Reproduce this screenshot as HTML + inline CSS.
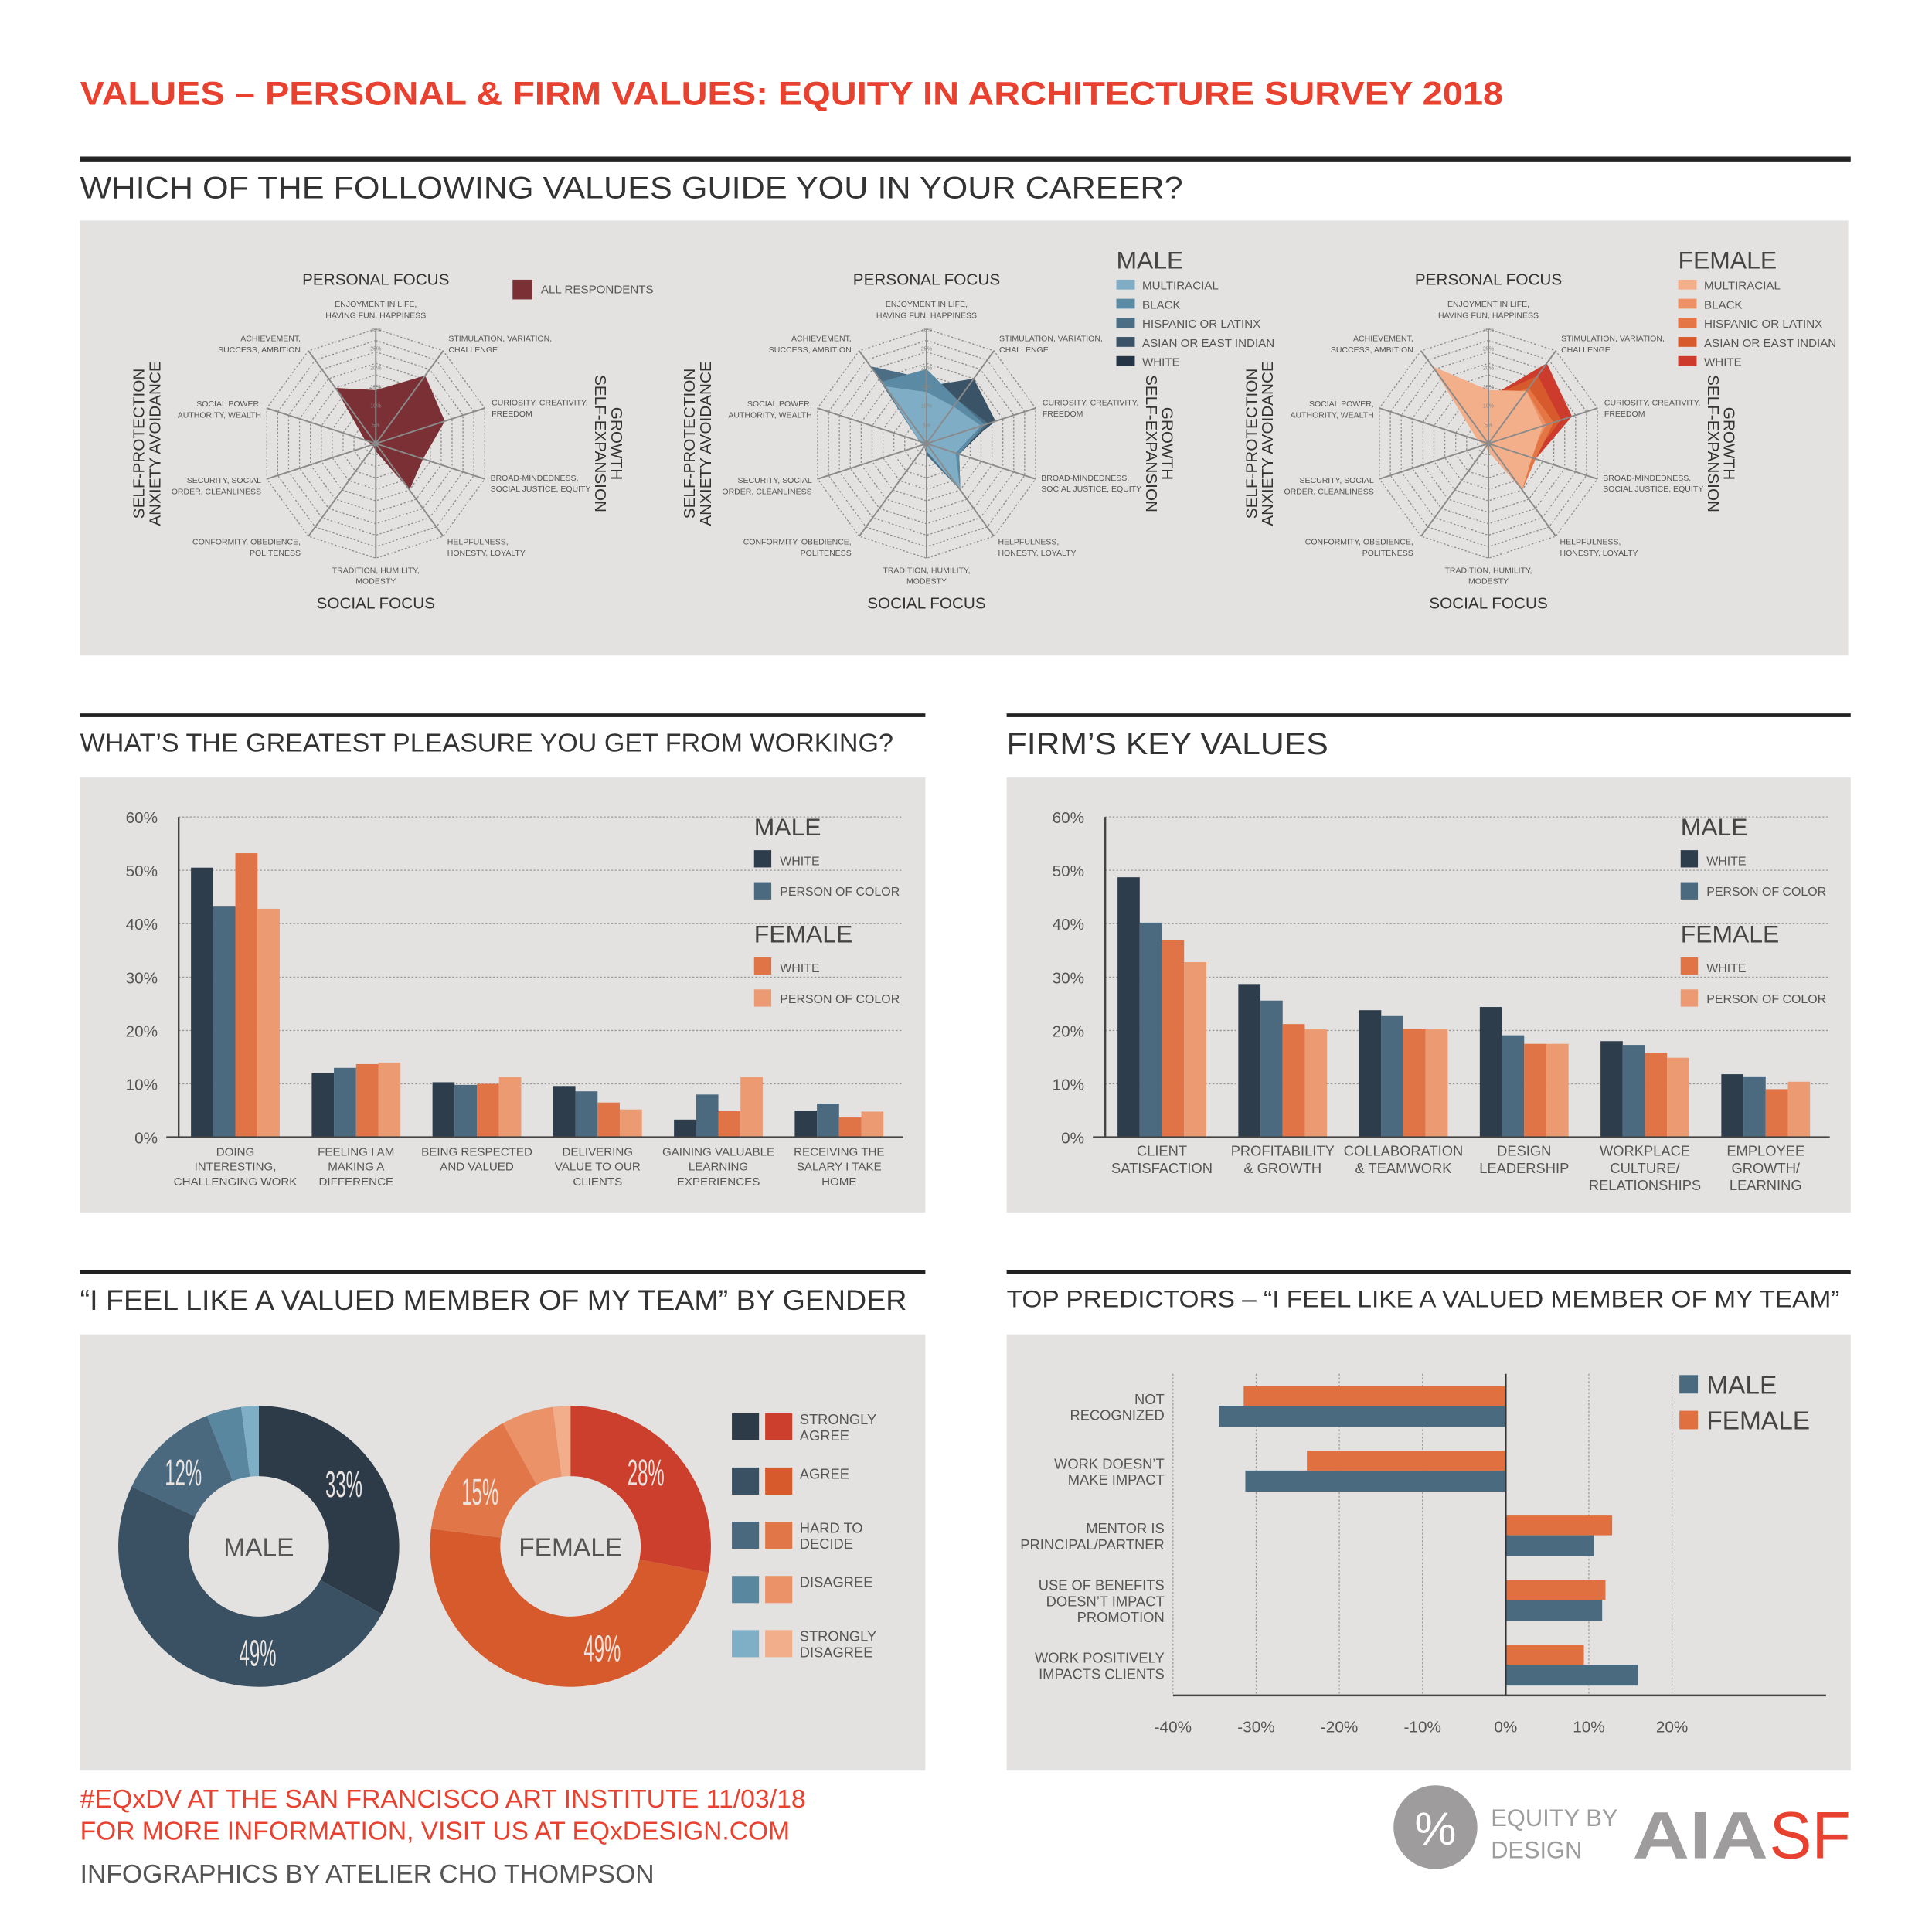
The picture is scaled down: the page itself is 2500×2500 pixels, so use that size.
<!DOCTYPE html>
<html><head><meta charset="utf-8">
<style>
html,body{margin:0;padding:0;background:#fff;width:2500px;height:2500px;overflow:hidden}
svg{display:block}
text{font-family:"Liberation Sans",sans-serif}
</style></head>
<body>
<svg id="root" width="2500" height="2500" viewBox="0 0 1568 1568" xmlns="http://www.w3.org/2000/svg">
<rect x="0" y="0" width="1568" height="1568" fill="#fff"/>
<text x="65" y="85" font-size="27" font-weight="bold" fill="#e8412f" textLength="1155" lengthAdjust="spacingAndGlyphs">VALUES – PERSONAL &amp; FIRM VALUES: EQUITY IN ARCHITECTURE SURVEY 2018</text>
<rect x="65" y="127" width="1437" height="4" fill="#222"/>
<text x="65" y="161" font-size="25" fill="#333" textLength="895" lengthAdjust="spacingAndGlyphs">WHICH OF THE FOLLOWING VALUES GUIDE YOU IN YOUR CAREER?</text>
<rect x="65" y="179" width="1435" height="353" fill="#e3e2e0"/>

<rect x="65" y="579" width="686" height="3" fill="#222"/>
<rect x="817" y="579" width="685" height="3" fill="#222"/>
<text x="65" y="610" font-size="21" fill="#333" textLength="660" lengthAdjust="spacingAndGlyphs">WHAT’S THE GREATEST PLEASURE YOU GET FROM WORKING?</text>
<text x="817" y="612" font-size="25" fill="#333" textLength="261" lengthAdjust="spacingAndGlyphs">FIRM’S KEY VALUES</text>
<rect x="65" y="631" width="686" height="353" fill="#e3e2e0"/>
<rect x="817" y="631" width="685" height="353" fill="#e3e2e0"/>

<rect x="65" y="1031" width="686" height="3" fill="#222"/>
<rect x="817" y="1031" width="685" height="3" fill="#222"/>
<text x="65" y="1063" font-size="23" fill="#333" textLength="671" lengthAdjust="spacingAndGlyphs">“I FEEL LIKE A VALUED MEMBER OF MY TEAM” BY GENDER</text>
<text x="817" y="1061" font-size="20" fill="#333" textLength="676" lengthAdjust="spacingAndGlyphs">TOP PREDICTORS – “I FEEL LIKE A VALUED MEMBER OF MY TEAM”</text>
<rect x="65" y="1083" width="686" height="354" fill="#e3e2e0"/>
<rect x="817" y="1083" width="685" height="354" fill="#e3e2e0"/>

<text x="65" y="1467" font-size="21" fill="#e8412f" textLength="589" lengthAdjust="spacingAndGlyphs">#EQxDV AT THE SAN FRANCISCO ART INSTITUTE 11/03/18</text>
<text x="65" y="1493" font-size="21" fill="#e8412f" textLength="576" lengthAdjust="spacingAndGlyphs">FOR MORE INFORMATION, VISIT US AT EQxDESIGN.COM</text>
<text x="65" y="1528" font-size="21" fill="#555" textLength="466" lengthAdjust="spacingAndGlyphs">INFOGRAPHICS BY ATELIER CHO THOMPSON</text>

<g>
<circle cx="1165" cy="1483" r="34" fill="#9e9c9c"/>
<text x="1165" y="1497" font-size="38" fill="#fff" text-anchor="middle">%</text>
<text x="1210" y="1482" font-size="20" fill="#9e9c9c" textLength="103" lengthAdjust="spacingAndGlyphs">EQUITY BY</text>
<text x="1210" y="1508" font-size="20" fill="#9e9c9c" textLength="74" lengthAdjust="spacingAndGlyphs">DESIGN</text>
</g>
<g>
<text x="1325" y="1508" font-size="54" font-weight="bold" fill="#9e9c9c" textLength="110" lengthAdjust="spacingAndGlyphs">AIA</text>
<text x="1436" y="1508" font-size="54" fill="#e8412f" textLength="66" lengthAdjust="spacingAndGlyphs">SF</text>
</g>
<g id="charts"></g>
</svg>
<script>
// ===== Radar data (order: enjoyment, stimulation, curiosity, broad-mindedness, helpfulness, tradition, conformity, security, social power, achievement)
const radarAxes = ["ENJOYMENT IN LIFE,|HAVING FUN, HAPPINESS","STIMULATION, VARIATION,|CHALLENGE","CURIOSITY, CREATIVITY,|FREEDOM","BROAD-MINDEDNESS,|SOCIAL JUSTICE, EQUITY","HELPFULNESS,|HONESTY, LOYALTY","TRADITION, HUMILITY,|MODESTY","CONFORMITY, OBEDIENCE,|POLITENESS","SECURITY, SOCIAL|ORDER, CLEANLINESS","SOCIAL POWER,|AUTHORITY, WEALTH","ACHIEVEMENT,|SUCCESS, AMBITION"];
const radarTicks = ["5%","10%","15%","20%","25%","30%"];
const allRespondents = [14,22,19,13,15,2,1,1,3,18];
const maleGroups = ["MULTIRACIAL","BLACK","HISPANIC OR LATINX","ASIAN OR EAST INDIAN","WHITE"];
const maleMultiracial = [13.5,12,15,8,15,2,1,1,2,18.5];
const maleBlack = [19.5,14,16,9,15,2,1,1,2,20];
const maleHispanic = [17,14,17,9,15,3,1,1,2,25];
const maleAsian = [15,21,19,8,14,2,1,1,2,24];
const maleWhite = [13,21,18,9,15,2,1,1,2,22];
const femaleMultiracial = [14,17,15,12,15,2,1,1,3,25];
const femaleBlack = [12,17,16,11,14,2,1,1,3,22];
const femaleHispanic = [11,18,18,13,15,2,1,1,3,16];
const femaleAsian = [12,22,20,12,15,2,1,1,3,15];
const femaleWhite = [12,26,23,13,15,2,1,1,2,13];

// ===== Pleasure bar chart
const pleasureCats = ["DOING|INTERESTING,|CHALLENGING WORK","FEELING I AM|MAKING A|DIFFERENCE","BEING RESPECTED|AND VALUED","DELIVERING|VALUE TO OUR|CLIENTS","GAINING VALUABLE|LEARNING|EXPERIENCES","RECEIVING THE|SALARY I TAKE|HOME"];
const pleasureMaleWhite = [50.5,12,10.3,9.6,3.3,5];
const pleasureMalePoc = [43.2,13,9.8,8.6,8,6.3];
const pleasureFemaleWhite = [53.2,13.7,10,6.5,4.9,3.7];
const pleasureFemalePoc = [42.8,14,11.3,5.2,11.3,4.8];
const barTicks = [0,10,20,30,40,50,60];

// ===== Firm values bar chart
const firmCats = ["CLIENT|SATISFACTION","PROFITABILITY|& GROWTH","COLLABORATION|& TEAMWORK","DESIGN|LEADERSHIP","WORKPLACE|CULTURE/|RELATIONSHIPS","EMPLOYEE|GROWTH/|LEARNING"];
const firmMaleWhite = [48.7,28.7,23.8,24.4,18,11.8];
const firmMalePoc = [40.2,25.6,22.7,19.1,17.3,11.4];
const firmFemaleWhite = [36.9,21.2,20.3,17.5,15.8,9];
const firmFemalePoc = [32.8,20.2,20.2,17.5,14.9,10.4];

// ===== Donuts
const donutCats = ["STRONGLY|AGREE","AGREE","HARD TO|DECIDE","DISAGREE","STRONGLY|DISAGREE"];
const donutMale = [33,49,12,4,2];
const donutFemale = [28,49,15,6,2];

// ===== Predictors
const predCats = ["NOT|RECOGNIZED","WORK DOESN’T|MAKE IMPACT","MENTOR IS|PRINCIPAL/PARTNER","USE OF BENEFITS|DOESN’T IMPACT|PROMOTION","WORK POSITIVELY|IMPACTS CLIENTS"];
const predMale = [-34.5,-31.3,10.6,11.6,15.9];
const predFemale = [-31.5,-23.9,12.8,12,9.4];
const predTicks = [-40,-30,-20,-10,0,10,20];

const NS = "http://www.w3.org/2000/svg";
const root = document.getElementById('charts');
function mk(tag, attrs, parent){const e=document.createElementNS(NS,tag);for(const k in attrs)e.setAttribute(k,attrs[k]);(parent||root).appendChild(e);return e;}
function txt(str, x, y, size, fill, anchor, parent){const t=mk('text',{x:x,y:y,'font-size':size,fill:fill,'text-anchor':anchor||'start'},parent);t.textContent=str;return t;}
function lines(str, x, y, size, lh, fill, anchor, parent){const g=mk('g',{},parent);str.split('|').forEach((s,i)=>{txt(s,x,y+i*lh,size,fill,anchor,g);});return g;}

// ---------- RADARS ----------
function radar(cx, cy, seriesList, colors, name){
  const R=93, max=30;
  const g=mk('g',{});
  
  
  const ang=i=>(-90+i*36)*Math.PI/180;
  const pt=(i,v)=>[cx+Math.cos(ang(i))*R*v/max, cy+Math.sin(ang(i))*R*v/max];
  for(let r=1;r<=10;r++){
    const v=r*3; const pts=[];
    for(let i=0;i<10;i++)pts.push(pt(i,v).join(','));
    mk('polygon',{points:pts.join(' '),fill:'none',stroke:'#8a8a8a','stroke-width':0.8,'stroke-dasharray':'1.5,1.5'},g);
  }
  seriesList.forEach((s,si)=>{
    const pts=s.map((v,i)=>pt(i,v).join(',')).join(' ');
    const p=mk('polygon',{points:pts,fill:colors[si]},g);
    
    
  });
  for(let i=0;i<10;i++){const e=pt(i,max);mk('line',{x1:cx,y1:cy,x2:e[0],y2:e[1],stroke:'#8a8a8a','stroke-width':1.2},g);}
  radarTicks.forEach((t,i)=>{txt(t,cx,cy-R*(5*(i+1))/max+2,4.5,'#888','middle',g);});
  const lp=[[0,-111,'middle'],[59,-83,'start'],[94,-31,'start'],[93,30,'start'],[58,82,'start'],[0,105,'middle'],[-61,82,'end'],[-93,32,'end'],[-93,-30,'end'],[-61,-83,'end']];
  radarAxes.forEach((a,i)=>{const l=lines(a,cx+lp[i][0],cy+lp[i][1],6.6,9,'#555',lp[i][2],g);});
  txt('PERSONAL FOCUS',cx,cy-129,13,'#333','middle',g);
  txt('SOCIAL FOCUS',cx,cy+134,13,'#333','middle',g);
  const l1=mk('text',{x:0,y:0,'font-size':13,fill:'#333','text-anchor':'middle',transform:`translate(${cx-188},${cy}) rotate(-90)`},g);l1.textContent='SELF-PROTECTION';
  const l2=mk('text',{x:0,y:13,'font-size':13,fill:'#333','text-anchor':'middle',transform:`translate(${cx-188},${cy}) rotate(-90)`},g);l2.textContent='ANXIETY AVOIDANCE';
  const r1=mk('text',{x:0,y:0,'font-size':13,fill:'#333','text-anchor':'middle',transform:`translate(${cx+191},${cy}) rotate(90)`},g);r1.textContent='GROWTH';
  const r2=mk('text',{x:0,y:13,'font-size':13,fill:'#333','text-anchor':'middle',transform:`translate(${cx+191},${cy}) rotate(90)`},g);r2.textContent='SELF-EXPANSION';
  return g;
}
radar(305,360,[allRespondents],['#7a3035'],'radar-all-respondents');
const ar=mk('rect',{x:416,y:227,width:16,height:16,fill:'#7a3035'});


txt('ALL RESPONDENTS',439,238,9.5,'#555');

const maleCols=['#263545','#3a5366','#4b6e85','#5b8aa4','#7fadc6'];
radar(752,360,[maleWhite,maleAsian,maleHispanic,maleBlack,maleMultiracial],maleCols,'radar-male');
const femCols=['#cc3b2b','#d65a2b','#e37644','#ec9266','#f3ae8a'];
radar(1208,360,[femaleWhite,femaleAsian,femaleHispanic,femaleBlack,femaleMultiracial],femCols,'radar-female');
function raceLegend(x,title,cols,name){
  const g=mk('g',{});
  
  
  txt(title,x,218,20,'#444','start',g);
  maleGroups.forEach((m,i)=>{mk('rect',{x:x,y:227+i*15.5,width:15,height:8,fill:cols[4-i]},g);txt(m,x+21,235+i*15.5,9.5,'#555','start',g);});
}
raceLegend(906,'MALE',maleCols,'male-race-legend');
raceLegend(1362,'FEMALE',femCols,'female-race-legend');

// ---------- BAR CHARTS ----------
const barCols=['#2e3d4c','#4b6a80','#e07446','#ec9a72'];
function barChart(ox, cats, series, name){
  const g=mk('g',{});
  
  
  const axX=ox+145, y0=923, yTop=663, right=ox+733;
  const ys=v=>y0-(v/60)*(y0-yTop);
  barTicks.forEach(t=>{
    if(t>0)mk('line',{x1:axX,y1:ys(t),x2:right,y2:ys(t),stroke:'#999','stroke-width':0.8,'stroke-dasharray':'1.5,1.5'},g);
    const l=txt(t+'%',ox+128,ys(t)+5,13,'#555','end',g);
    
  });
  mk('line',{x1:axX,y1:yTop,x2:axX,y2:y0,stroke:'#444','stroke-width':1.5},g);
  const step=98, bw=18;
  const firm = name==='firm-values-chart';
  cats.forEach((c,ci)=>{
    const gx=ox+155+ci*step;
    series.forEach((s,si)=>{
      const r=mk('rect',{x:gx+si*bw,y:ys(s[ci]),width:bw,height:y0-ys(s[ci]),fill:barCols[si]},g);
      
      
    });
    const l=lines(c,gx+36,938,firm?11.5:9.5,firm?14:12,'#555','middle',g);
    
    
  });
  mk('line',{x1:axX-10,y1:y0,x2:right,y2:y0,stroke:'#444','stroke-width':1.5},g);
  const lx=ox+612;
  txt('MALE',lx,678,20,'#444','start',g);
  mk('rect',{x:lx,y:690,width:14,height:14,fill:barCols[0]},g);txt('WHITE',lx+21,702,10,'#555','start',g);
  mk('rect',{x:lx,y:716,width:14,height:14,fill:barCols[1]},g);txt('PERSON OF COLOR',lx+21,727,10,'#555','start',g);
  txt('FEMALE',lx,765,20,'#444','start',g);
  mk('rect',{x:lx,y:777,width:14,height:14,fill:barCols[2]},g);txt('WHITE',lx+21,789,10,'#555','start',g);
  mk('rect',{x:lx,y:803,width:14,height:14,fill:barCols[3]},g);txt('PERSON OF COLOR',lx+21,814,10,'#555','start',g);
}
barChart(0,pleasureCats,[pleasureMaleWhite,pleasureMalePoc,pleasureFemaleWhite,pleasureFemalePoc],'pleasure-chart');
barChart(752,firmCats,[firmMaleWhite,firmMalePoc,firmFemaleWhite,firmFemalePoc],'firm-values-chart');

// ---------- DONUTS ----------
const donutMaleCols=['#2d3a48','#3a5164','#4a687e','#5a87a0','#7eafc7'];
const donutFemCols=['#cc3f2c','#d65a2c','#e17748','#eb9268','#f2ad8b'];
function donut(cx,cy,vals,cols,label,name){
  const g=mk('g',{});
  
  
  const Ro=114, Ri=57; const tot=vals.reduce((a,b)=>a+b,0); let a0=-Math.PI/2;
  vals.forEach((v,i)=>{
    const a1=a0+v/tot*2*Math.PI; const la=(a1-a0)>Math.PI?1:0;
    const p=[cx+Ro*Math.cos(a0),cy+Ro*Math.sin(a0),cx+Ro*Math.cos(a1),cy+Ro*Math.sin(a1),cx+Ri*Math.cos(a1),cy+Ri*Math.sin(a1),cx+Ri*Math.cos(a0),cy+Ri*Math.sin(a0)];
    const s=mk('path',{d:`M${p[0]},${p[1]} A${Ro},${Ro} 0 ${la} 1 ${p[2]},${p[3]} L${p[4]},${p[5]} A${Ri},${Ri} 0 ${la} 0 ${p[6]},${p[7]} Z`,fill:cols[i]},g);
    
    
    if(v>=10){
      const am=a0+(a1-a0)*(i===1?0.35:0.45), rm=86;
      const lx=cx+rm*Math.cos(am);
      const t=txt(v+'%',lx,cy+rm*Math.sin(am)+11,30,'#e9e4e0','middle',g);
      t.setAttribute('transform',`translate(${lx},0) scale(0.5,1) translate(${-lx},0)`);
    }
    a0=a1;
  });
  txt(label,cx,cy+8,21,'#555','middle',g);
}
donut(210,1255,donutMale,donutMaleCols,'MALE','male-donut');
donut(463,1255,donutFemale,donutFemCols,'FEMALE','female-donut');
donutCats.forEach((c,i)=>{
  const y=1147+i*44;
  const a=mk('rect',{x:594,y:y,width:22,height:22,fill:donutMaleCols[i]});
  
  
  const b=mk('rect',{x:621,y:y,width:22,height:22,fill:donutFemCols[i]});
  
  
  lines(c,649,y+9,11.5,13,'#555','start');
});

// ---------- PREDICTORS ----------
(function(){
  const g=mk('g',{});
  
  
  const x0=1222, k=6.75, xs=v=>x0+v*k, yBase=1376;
  predTicks.forEach(t=>{
    if(t!==0)mk('line',{x1:xs(t),y1:1115,x2:xs(t),y2:yBase,stroke:'#999','stroke-width':0.8,'stroke-dasharray':'1.5,1.5'},g);
    const l=txt(t+'%',xs(t),1406,13,'#555','middle',g);
    
  });
  predCats.forEach((c,i)=>{
    const top=1125+i*52.5;
    const f=mk('rect',{x:Math.min(x0,xs(predFemale[i])),y:top,width:Math.abs(predFemale[i]*k),height:16,fill:'#e0703f'},g);
    
    
    const m=mk('rect',{x:Math.min(x0,xs(predMale[i])),y:top+16,width:Math.abs(predMale[i]*k),height:17,fill:'#4a6a80'},g);
    
    
    const n=c.split('|').length;
    const l=lines(c,945,top+21-(n-1)*6.5,11.5,13,'#555','end',g);
    
    
  });
  mk('line',{x1:x0,y1:1115,x2:x0,y2:yBase,stroke:'#333','stroke-width':1.5},g);
  mk('line',{x1:952,y1:yBase,x2:1482,y2:yBase,stroke:'#444','stroke-width':1.5},g);
  mk('rect',{x:1363,y:1116,width:15,height:15,fill:'#4a6a80'},g);txt('MALE',1385,1131,21,'#444','start',g);
  mk('rect',{x:1363,y:1145,width:15,height:15,fill:'#e0703f'},g);txt('FEMALE',1385,1160,21,'#444','start',g);
})();
</script>
</body></html>
